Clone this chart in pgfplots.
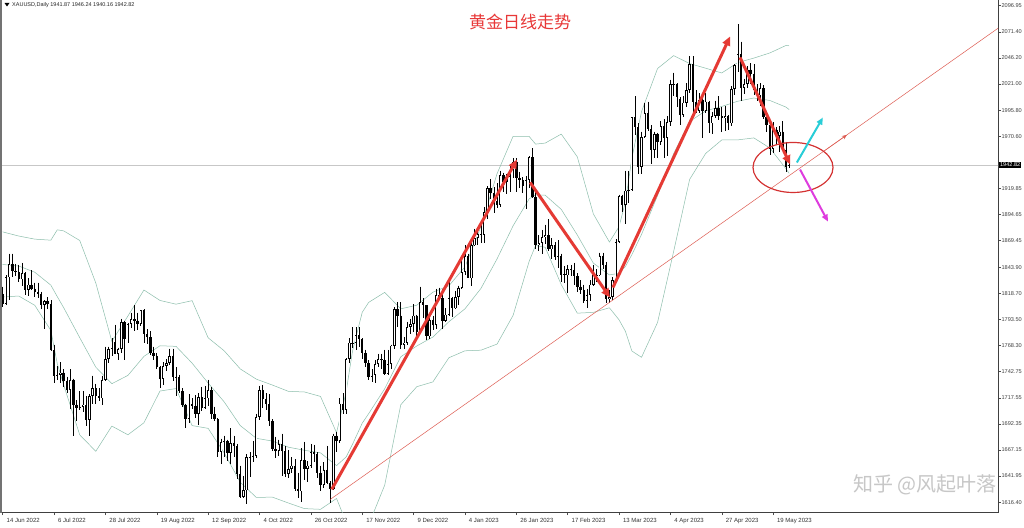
\documentclass[border=0pt]{standalone}
\usepackage{fontspec}
\setmainfont{Liberation Sans}
\newfontfamily\cjk{Noto Sans CJK SC}
\usepackage{pgfplots}
\pgfplotsset{compat=1.18}
\usepackage{pgfplotstable}
\usetikzlibrary{arrows.meta}

\definecolor{band}{RGB}{140,190,172}
\definecolor{arrowred}{RGB}{229,58,52}
\definecolor{trendred}{RGB}{222,92,82}
\definecolor{ringred}{RGB}{212,50,50}
\definecolor{upcyan}{RGB}{40,205,215}
\definecolor{dnmag}{RGB}{222,60,222}
\definecolor{titlered}{RGB}{232,56,56}

% i open high low close (XAUUSD daily, 14 Jun 2022 - 26 May 2023)
\pgfplotstableread{
i o h l c
0 1818 1825 1805 1808
1 1808 1836 1807 1834
2 1834 1857 1812 1847
3 1847 1857 1834 1840
4 1840 1847 1835 1839
5 1839 1846 1830 1832
6 1832 1848 1826 1838
7 1838 1839 1817 1822
8 1822 1833 1816 1827
9 1827 1841 1822 1823
10 1823 1829 1815 1820
11 1820 1829 1814 1818
12 1818 1820 1803 1807
13 1807 1812 1784 1811
14 1811 1815 1803 1808
15 1808 1812 1763 1764
16 1764 1769 1732 1739
17 1739 1748 1735 1740
18 1740 1752 1732 1742
19 1742 1745 1728 1734
20 1734 1738 1722 1725
21 1725 1745 1707 1735
22 1735 1736 1681 1711
23 1711 1715 1695 1708
24 1708 1724 1706 1709
25 1709 1724 1704 1711
26 1711 1719 1690 1696
27 1696 1721 1681 1719
28 1719 1739 1712 1727
29 1727 1731 1712 1719
30 1719 1727 1714 1717
31 1717 1739 1711 1735
32 1735 1767 1734 1755
33 1755 1767 1751 1765
34 1765 1775 1758 1772
35 1772 1788 1760 1760
36 1760 1766 1754 1765
37 1765 1794 1761 1791
38 1791 1792 1754 1774
39 1774 1790 1771 1789
40 1789 1800 1785 1794
41 1794 1807 1782 1792
42 1792 1800 1783 1789
43 1789 1802 1787 1802
44 1802 1803 1771 1779
45 1779 1784 1770 1776
46 1776 1782 1759 1761
47 1761 1767 1754 1758
48 1758 1761 1745 1747
49 1747 1748 1727 1736
50 1736 1752 1730 1748
51 1748 1755 1743 1751
52 1751 1765 1749 1758
53 1758 1765 1734 1738
54 1738 1747 1719 1738
55 1738 1740 1722 1724
56 1724 1727 1709 1711
57 1711 1712 1688 1697
58 1697 1721 1693 1712
59 1712 1717 1707 1710
60 1710 1720 1698 1702
61 1702 1722 1691 1718
62 1718 1728 1705 1708
63 1708 1729 1707 1717
64 1717 1735 1710 1725
65 1725 1728 1697 1702
66 1702 1709 1695 1697
67 1697 1698 1660 1665
68 1665 1678 1654 1675
69 1675 1681 1660 1676
70 1676 1677 1656 1664
71 1664 1688 1654 1674
72 1674 1681 1660 1671
73 1671 1673 1639 1644
74 1644 1652 1621 1622
75 1622 1642 1621 1628
76 1628 1663 1615 1660
77 1658 1665 1641 1660
78 1660 1676 1655 1661
79 1661 1702 1659 1699
80 1699 1729 1696 1725
81 1725 1730 1708 1716
82 1716 1722 1706 1712
83 1712 1721 1690 1695
84 1695 1697 1666 1668
85 1668 1680 1659 1666
86 1666 1677 1661 1673
87 1673 1683 1642 1666
88 1666 1671 1641 1644
89 1644 1667 1640 1649
90 1649 1660 1645 1652
91 1652 1658 1627 1629
92 1629 1645 1621 1627
93 1627 1669 1617 1657
94 1657 1675 1638 1649
95 1649 1656 1636 1652
96 1652 1673 1650 1665
97 1665 1672 1655 1663
98 1663 1665 1640 1645
99 1645 1652 1627 1633
100 1633 1655 1630 1648
101 1648 1671 1634 1635
102 1635 1637 1616 1629
103 1629 1683 1628 1681
104 1681 1684 1665 1676
105 1676 1717 1674 1712
106 1712 1722 1702 1706
107 1706 1756 1702 1755
108 1755 1775 1751 1771
109 1770 1786 1766 1771
110 1771 1786 1764 1778
111 1778 1786 1767 1774
112 1774 1775 1755 1761
113 1761 1764 1747 1751
114 1751 1754 1735 1738
115 1738 1745 1733 1740
116 1740 1754 1732 1750
117 1750 1760 1747 1755
118 1755 1760 1745 1754
119 1754 1764 1740 1741
120 1741 1764 1740 1750
121 1750 1769 1745 1768
122 1768 1805 1765 1803
123 1803 1810 1786 1797
124 1797 1810 1765 1769
125 1769 1776 1765 1771
126 1771 1791 1769 1786
127 1786 1794 1779 1789
128 1789 1808 1781 1797
129 1797 1798 1775 1781
130 1781 1825 1779 1810
131 1810 1814 1795 1807
132 1807 1807 1773 1777
133 1777 1798 1774 1793
134 1793 1797 1783 1788
135 1788 1823 1784 1817
136 1817 1824 1813 1814
137 1814 1823 1784 1792
138 1792 1804 1791 1798
139 1798 1833 1797 1814
140 1814 1815 1796 1804
141 1804 1821 1803 1815
142 1815 1826 1807 1824
143 1824 1850 1823 1839
144 1839 1865 1836 1855
145 1855 1857 1834 1833
146 1833 1870 1826 1865
147 1865 1881 1864 1872
148 1872 1878 1865 1876
149 1876 1886 1867 1875
150 1875 1902 1867 1897
151 1897 1922 1890 1920
152 1920 1929 1910 1916
153 1916 1921 1896 1908
154 1908 1925 1901 1904
155 1904 1937 1902 1933
156 1933 1935 1917 1926
157 1926 1934 1915 1931
158 1931 1942 1917 1938
159 1938 1949 1930 1946
160 1946 1949 1917 1930
161 1930 1936 1920 1928
162 1928 1931 1916 1922
163 1922 1932 1900 1928
164 1928 1951 1920 1950
165 1950 1959 1911 1912
166 1912 1918 1861 1865
167 1865 1875 1860 1867
168 1867 1880 1857 1873
169 1873 1885 1866 1875
170 1875 1890 1860 1861
171 1861 1872 1852 1865
172 1865 1868 1851 1854
173 1854 1870 1843 1855
174 1855 1857 1830 1836
175 1837 1845 1829 1836
176 1836 1846 1819 1842
177 1842 1846 1835 1841
178 1841 1848 1827 1835
179 1835 1838 1820 1825
180 1825 1831 1818 1822
181 1822 1827 1809 1811
182 1811 1823 1804 1817
183 1817 1831 1811 1827
184 1827 1846 1826 1836
185 1835 1842 1830 1836
186 1836 1858 1835 1855
187 1855 1858 1842 1846
188 1846 1849 1809 1813
189 1813 1822 1809 1815
190 1815 1834 1812 1831
191 1831 1871 1830 1868
192 1868 1914 1867 1913
193 1913 1914 1897 1904
194 1904 1937 1886 1918
195 1918 1937 1906 1919
196 1919 1989 1918 1989
197 1989 2009 1972 1979
198 1979 1983 1934 1941
199 1941 1975 1934 1970
200 1970 2003 1969 1993
201 1993 2004 1976 1978
202 1978 1981 1944 1957
203 1957 1975 1949 1973
204 1973 1974 1949 1965
205 1965 1985 1962 1980
206 1980 1987 1949 1969
207 1969 1990 1951 1984
208 1984 2025 1980 2021
209 2020 2032 2009 2021
210 2021 2022 1999 2008
211 2007 2008 1981 1991
212 1991 2009 1989 2003
213 2003 2022 1999 2015
214 2015 2048 2012 2040
215 2040 2048 1992 2004
216 2004 2015 1993 1995
217 1995 2012 1993 2006
218 2006 2008 1969 1995
219 1995 2012 1993 2004
220 2004 2005 1974 1983
221 1983 1994 1973 1990
222 1990 2005 1988 1998
223 1998 2009 1986 1990
224 1990 1999 1975 1988
225 1988 2000 1976 1990
226 1990 1991 1977 1983
227 1983 2019 1980 2016
228 2016 2040 2010 2039
229 2039 2079 2033 2050
230 2050 2062 2005 2017
231 2017 2026 2011 2021
232 2021 2038 2017 2035
233 2035 2041 2021 2031
234 2031 2040 2010 2015
235 2015 2021 2005 2010
236 2010 2022 2000 2017
237 2017 2020 1987 1989
238 1989 1994 1975 1981
239 1981 1985 1952 1958
240 1958 1984 1954 1977
241 1977 1979 1962 1971
242 1971 1980 1955 1975
243 1975 1985 1956 1957
244 1957 1965 1936 1941
245 1941.87 1946.24 1940.16 1942.82
}\ohlc

% Bollinger bands (upper, middle, lower)
\pgfplotstableread{
i u m l
0 1878 1846.5 1815
5 1874 1845 1816
10 1871 1839 1807
15 1870 1826.5 1782.7
17 1880 1815.4 1750.6
19 1879 1804.7 1730
24 1869.7 1775.7 1681.7
29 1828.6 1747.2 1665.8
34 1772.2 1731.2 1690.2
39 1796.6 1739.2 1681.8
44 1821.8 1757.6 1693.4
49 1811.7 1767.9 1724.1
54 1808.1 1767.3 1726.5
59 1811.5 1751.1 1690.7
64 1775.6 1731.8 1688
69 1763 1713.6 1664.2
74 1745.5 1690.7 1635.9
79 1735.6 1678.4 1621.2
84 1729.9 1675.7 1621.5
89 1723.8 1669.8 1615.8
94 1723.2 1666.8 1610.4
99 1718.9 1664.3 1609.7
104 1683.8 1652.0 1620.2
107 1723.6 1660.4 1597.2
109 1763.2 1672.8 1582.4
112 1800.2 1693 1585.8
114 1809.8 1702.2 1594.6
119 1819.5 1726.3 1633.1
124 1803.6 1757.2 1710.8
129 1807.1 1767.7 1728.3
134 1819.7 1776.3 1732.9
139 1825.9 1791.1 1756.3
144 1844.2 1803.6 1763
149 1883.2 1823.4 1763.6
154 1934.3 1851.9 1769.5
159 1970.5 1883.9 1797.3
164 1970.3 1909.9 1849.5
166 1962.9 1913.9 1864.9
169 1963.9 1913.5 1863.1
174 1972.6 1899.8 1827
179 1950.6 1875 1799.4
184 1895.4 1847.8 1800.2
189 1868.2 1836.4 1804.6
192 1883 1838 1793
194 1907.4 1844.6 1781.8
196 1949.2 1856 1762.8
199 1994.3 1875.5 1756.7
204 2036 1913.2 1790.4
209 2048.5 1953.7 1858.9
214 2040.8 1984.8 1928.8
219 2036.3 1995.1 1953.9
224 2031.7 1999.3 1966.9
229 2041.8 2004.4 1967
234 2046.1 2007.5 1968.9
239 2051.1 2005.1 1959.1
244 2058.3 1998.7 1939.1
245 2058 1996.3 1934.6
}\bands

\pgfplotsset{candle/.style={only marks, mark size=0pt, mark options={draw=none, fill=none},
  error bars/.cd, y dir=minus, y explicit, error mark=none}}

\begin{document}
\begin{tikzpicture}[x=1pt,y=1pt]
\useasboundingbox (0,0) rectangle (1024,527);
\fill[white] (0,0) rectangle (1024,527);
\begin{axis}[
  at={(0,14)}, anchor=south west,
  width=998pt, height=513pt, scale only axis,
  xmin=-0.841, xmax=310.06,
  ymin=1606.6, ymax=2102.75,
  axis x line*=bottom, axis y line*=right,
  axis line style={black!75, line width=0.6pt},
  tick align=outside, major tick length=2.5pt,
  tick style={black!70, line width=0.5pt},
  xtick={0,16,...,240},
  xticklabels={14 Jun 2022, 6 Jul 2022, 28 Jul 2022, 19 Aug 2022, 12 Sep 2022, 4 Oct 2022, 26 Oct 2022, 17 Nov 2022, 9 Dec 2022, 4 Jan 2023, 26 Jan 2023, 17 Feb 2023, 13 Mar 2023, 4 Apr 2023, 27 Apr 2023, 19 May 2023},
  xticklabel style={anchor=north west, xshift=0.5pt, font=\fontsize{6}{7}\selectfont, text=black!80},
  ytick={1616.40,1641.95,1667.15,1692.35,1717.55,1742.75,1768.30,1793.50,1818.70,1843.90,1869.45,1894.65,1919.85,1970.60,1995.80,2021.00,2046.20,2071.40,2096.95},
  yticklabels={1616.40,1641.95,1667.15,1692.35,1717.55,1742.75,1768.30,1793.50,1818.70,1843.90,1869.45,1894.65,1919.85,1970.60,1995.80,2021.00,2046.20,2071.40,2096.95},
  yticklabel style={font=\fontsize{5.6}{6.5}\selectfont, text=black!75, xshift=-2.5pt},
  enlargelimits=false,
]
% current price line
\addplot[black!22, line width=0.5pt] coordinates {(-1,1942.82) (311,1942.82)};

% Bollinger bands
\addplot[band, line width=0.5pt] table[x=i, y=u] {\bands};
\addplot[band, line width=0.5pt] table[x=i, y=m] {\bands};
\addplot[band, line width=0.5pt] table[x=i, y=l] {\bands};

% wicks
\addplot[candle, error bar style={draw=black, line width=0.6pt}]
  table[x=i, y=h, y error minus expr={\thisrow{h}-\thisrow{l}}] {\ohlc};
% bodies (black outline / black fill)
\addplot[candle, error bar style={draw=black, line width=2.4pt}]
  table[x=i, y expr={max(\thisrow{o},\thisrow{c})}, y error minus expr={max(abs(\thisrow{c}-\thisrow{o}),0.9)}] {\ohlc};
% hollow inside of rising candles
\addplot[candle, error bar style={draw=white, line width=0.9pt}]
  table[x=i, y expr={\thisrow{c}-0.8}, y error minus expr={(\thisrow{c}>\thisrow{o}) ? max(\thisrow{c}-\thisrow{o}-1.6,0) : 0}] {\ohlc};

% trend line
\draw[trendred, line width=0.5pt] (axis cs:102,1619.2) -- (axis cs:311,2077);
\draw[trendred, line width=0.5pt, -{Stealth[length=5pt,width=4pt]}] (axis cs:256,1956.5) -- (axis cs:263,1971.8);

% swing arrows
\draw[arrowred, line width=3pt, -{Triangle[length=9pt,width=8pt]}] (axis cs:102.5,1629) -- (axis cs:160.2,1948);
\draw[arrowred, line width=3pt, -{Triangle[length=9pt,width=8pt]}] (axis cs:164.3,1925.8) -- (axis cs:189.2,1814.5);
\draw[arrowred, line width=3pt, -{Triangle[length=9pt,width=8pt]}] (axis cs:190.1,1824.2) -- (axis cs:226.6,2067);
\draw[arrowred, line width=3pt, -{Triangle[length=9pt,width=8pt]}] (axis cs:229.7,2046.7) -- (axis cs:245.3,1943.2);

% circle and scenario arrows
\draw[ringred, line width=1.2pt] (axis cs:246.2,1940.3) ellipse [x radius=40pt, y radius=25pt];
\draw[upcyan, line width=2pt, -{Triangle[length=7pt,width=6pt]}] (axis cs:247.4,1945.1) -- (axis cs:255.5,1988.6);
\draw[dnmag, line width=2pt, -{Triangle[length=7pt,width=6pt]}] (axis cs:248.4,1938.3) -- (axis cs:257.1,1888);
\end{axis}

% window border
\fill[black!55] (0,14) rectangle (1.5,527);

% header
\fill[black] (4.5,524) -- (9.5,524) -- (7,520.5) -- cycle;
\node[anchor=west, inner sep=0pt, font=\fontsize{5.5}{6}\selectfont, text=black!85] at (12,522) {XAUUSD,Daily 1941.87 1946.24 1940.16 1942.82};

% current price tag
\node[anchor=west, fill=black, text=white, inner sep=0.9pt, font=\fontsize{5.6}{6.5}\selectfont] at (999,362) {1942.82};

% title
\node[text=titlered, font=\cjk\fontsize{17}{18}\selectfont] at (520,505) {黄金日线走势};

% watermark
\node[anchor=east, text=black!22, font=\cjk\fontsize{20}{22}\selectfont, inner sep=0pt] at (997,42) {知乎 @风起叶落};
\end{tikzpicture}
\end{document}
